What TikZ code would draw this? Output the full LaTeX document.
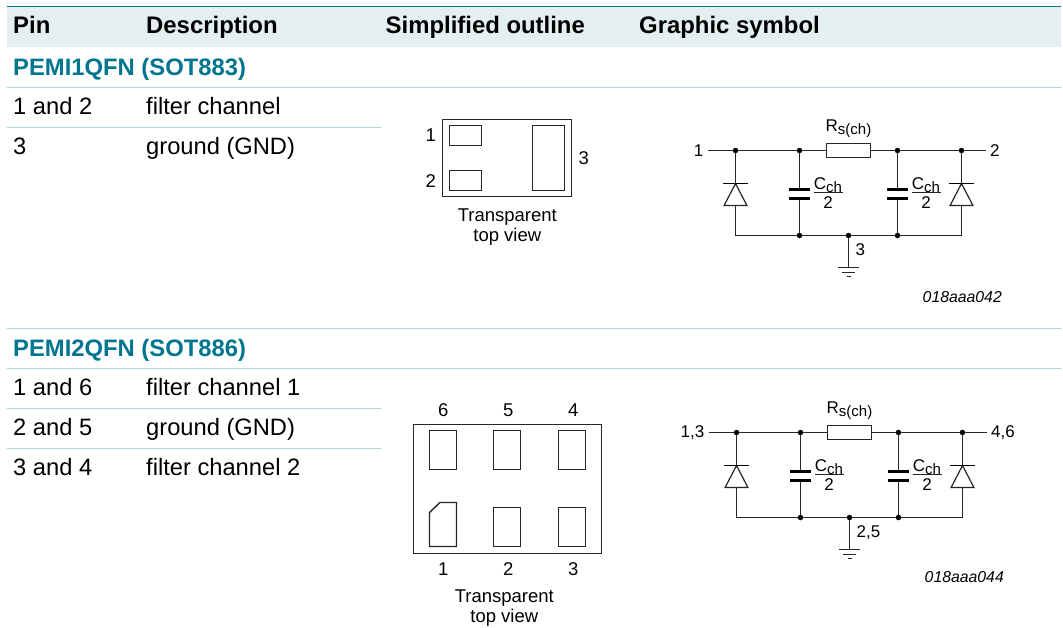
\documentclass[tikz,border=0pt]{standalone}
\usepackage{fontspec}
\setmainfont{Liberation Sans}
\usetikzlibrary{positioning}
\definecolor{headteal}{HTML}{00758F}
\definecolor{headband}{HTML}{E3EFF1}
\definecolor{rowline}{HTML}{B0D2D8}
\newcommand{\subtxt}[1]{\raisebox{-3pt}{\fontsize{15}{15}\selectfont #1}}
\tikzset{
  headtxt/.style={anchor=base west,font=\fontsize{23.9}{26}\selectfont\bfseries,inner sep=0pt},
  typetxt/.style={anchor=base west,font=\fontsize{23.8}{26}\selectfont\bfseries,text=headteal,inner sep=0pt},
  celltxt/.style={anchor=base west,font=\fontsize{23.7}{26}\selectfont,inner sep=0pt},
  lbl/.style={font=\fontsize{18.5}{20}\selectfont,inner sep=0pt,align=center},
  symtxt/.style={font=\fontsize{17}{20}\selectfont,inner sep=0pt},
  codetxt/.style={anchor=base east,font=\fontsize{15.8}{18}\selectfont\itshape,inner sep=0pt},
  wire/.style={line width=1.2pt,black!85},
  outl/.style={line width=1.6pt,black!85},
  pad/.style={line width=1.4pt,black!85},
  dot/.style={circle,fill=black,inner sep=0pt,minimum size=5.5pt},
  resbox/.style={draw=black!85,line width=1.2pt,fill=white,minimum width=44pt,minimum height=14pt,inner sep=0pt},
  platebar/.style={line width=2.8pt,black},
  rowrule/.style={line width=1pt,rowline}
}
\begin{document}
\begin{tikzpicture}[x=1pt,y=-1pt]
\useasboundingbox (0,0) rectangle (1063,627);
\fill[white] (0,0) rectangle (1063,627);
% table head
\fill[headband] (7,6.5) rectangle (1061,46.5);
\draw[line width=1pt,headteal] (7,6.5) -- (1061,6.5);
\node[headtxt] (pinhd) at (13,33) {Pin};
\node[headtxt] (deschd) at (146,33) {Description};
\node[headtxt] (outhd) at (385.5,33) {Simplified outline};
\node[headtxt] (symhd) at (639,33) {Graphic symbol};
% first type
\node[typetxt] (typea) at (13,75) {PEMI1QFN (SOT883)};
\draw[rowrule] (7,87.5) -- (1061,87.5);
\node[celltxt] (pinaa) at (13,114) {1 and 2};
\node[celltxt] (descaa) at (146,114) {filter channel};
\draw[rowrule] (7,127.5) -- (381,127.5);
\node[celltxt] (pinab) at (13,154) {3};
\node[celltxt] (descab) at (146,154) {ground (GND)};
% outline SOT883
\draw[outl] (442.5,119.5) rectangle (571.5,196.5);
\draw[pad] (449.5,125.5) rectangle (481.5,145.5);
\draw[pad] (449.5,170.5) rectangle (481.5,190.5);
\draw[pad] (532.5,125.5) rectangle (564.5,190.5);
\node[lbl] (outa1) at (430.7,135.3) {1};
\node[lbl] (outa2) at (430.7,180.7) {2};
\node[lbl] (outa3) at (583.7,157.7) {3};
\node[lbl] (outatxt) at (507.3,227) {Transparent\\top view};
\node[codetxt] (codea) at (1002,302.7) {018aaa042};
% second type
\draw[rowrule] (7,328.5) -- (1061,328.5);
\node[typetxt] (typeb) at (13,356) {PEMI2QFN (SOT886)};
\draw[rowrule] (7,368.5) -- (1061,368.5);
\node[celltxt] (pinba) at (13,395) {1 and 6};
\node[celltxt] (descba) at (146,395) {filter channel 1};
\draw[rowrule] (7,408.5) -- (381,408.5);
\node[celltxt] (pinbb) at (13,435) {2 and 5};
\node[celltxt] (descbb) at (146,435) {ground (GND)};
\draw[rowrule] (7,448.5) -- (381,448.5);
\node[celltxt] (pinbc) at (13,475) {3 and 4};
\node[celltxt] (descbc) at (146,475) {filter channel 2};
% outline SOT886
\draw[outl] (413.5,424.5) rectangle (601.5,553.5);
\foreach \px in {429.5,493.5,558.5} {
\draw[pad] (\px,430.5) rectangle (\px+27,469.5);
}
\foreach \px in {493.5,558.5} {
\draw[pad] (\px,507.5) rectangle (\px+27,546.5);
}
\draw[pad] (429.5,546.5) -- (429.5,512.5) -- (440,502.5) -- (456.5,502.5) -- (456.5,546.5) -- cycle;
\foreach \px/\ptop/\pbot in {443.3/6/1,508.3/5/2,573.3/4/3} {
\node[lbl] (top\ptop) at (\px,410) {\ptop};
\node[lbl] (bot\pbot) at (\px,569) {\pbot};
}
\node[lbl] (outbtxt) at (504.3,608) {Transparent\\top view};
\node[codetxt] (codeb) at (1004,582.7) {018aaa044};
% both filter networks, origin at the ground dot
\foreach \ox/\oy/\nm/\pl/\pr/\pg in {848.5/235.5/a/1/2/3,849.5/517.5/b/{1,3}/{4,6}/{2,5}} {
\begin{scope}[shift={(\ox,\oy)}]
\node[dot] (\nm dl) at (-113,-85) {};
\node[dot] (\nm cl) at (-49,-85) {};
\node[dot] (\nm cr) at (49,-85) {};
\node[dot] (\nm dr) at (113,-85) {};
\node[dot] (\nm bl) at (-49,0) {};
\node[dot] (\nm br) at (49,0) {};
\node[dot] (\nm g) at (0,0) {};
\coordinate (\nm el) at (-113,0);
\coordinate (\nm er) at (113,0);
\coordinate (\nm wl) at (-141,-85);
\coordinate (\nm wr) at (137.5,-85);
\coordinate (\nm st) at (0,32);
\node[symtxt,anchor=east] (\nm pl) at (-145,-85) {\pl};
\node[symtxt,anchor=west] (\nm pr) at (141.5,-85) {\pr};
\draw[wire] (\nm wl) -- (\nm dl) -- (\nm cl) -- (\nm cr) -- (\nm dr) -- (\nm wr);
\node[resbox] (\nm res) at (0,-85) {};
\node[symtxt,anchor=base] (\nm rl) at (0,-104) {R\subtxt{s(ch)}};
\draw[wire] (\nm dl) -- (\nm el) -- (\nm bl) -- (\nm g) -- (\nm br) -- (\nm er) -- (\nm dr);
\draw[wire] (\nm cl) -- (\nm bl);
\draw[wire] (\nm cr) -- (\nm br);
\foreach \cx in {-49,49} {
\fill[white] (\cx-10,-46) rectangle (\cx+10,-37);
\draw[platebar] (\cx-10.7,-46) -- (\cx+10.7,-46);
\draw[platebar] (\cx-10.7,-37) -- (\cx+10.7,-37);
\node[symtxt,anchor=base] at (\cx+28.5,-46) {C\subtxt{ch}};
\draw[line width=0.9pt,black!85] (\cx+14.3,-43) -- (\cx+43,-43);
\node[symtxt,anchor=base] at (\cx+28.5,-27) {2};
}
\foreach \dx in {-113,113} {
\draw[wire,fill=white] (\dx,-52) -- (\dx-11.4,-30) -- (\dx+11.4,-30) -- cycle;
\draw[line width=1.9pt,black] (\dx-12.2,-52) -- (\dx+12.2,-52);
}
\draw[wire] (\nm g) -- (\nm st);
\draw[wire] (-10.6,32) -- (10.6,32);
\draw[wire] (-6.3,37) -- (6.3,37);
\draw[wire] (-2,41) -- (2,41);
\node[symtxt,anchor=base west] (\nm pg) at (7,19.6) {\pg};
\end{scope}
}
\end{tikzpicture}
\end{document}
